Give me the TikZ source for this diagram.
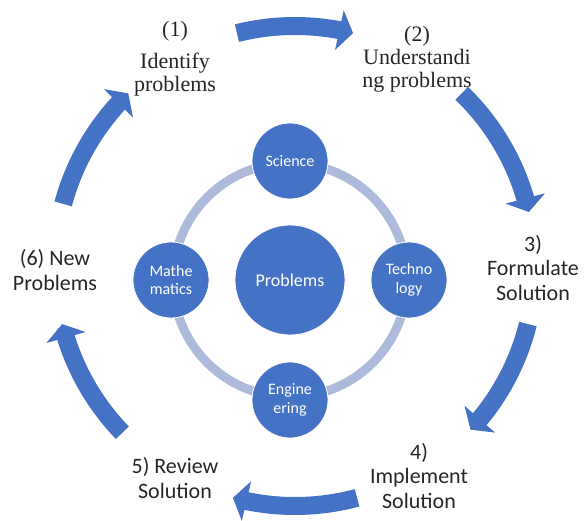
\documentclass[tikz,border=0pt]{standalone}
\usepackage{fontspec}
\setmainfont{Liberation Serif}
\newfontfamily\calibri{Carlito}
\usepackage{xcolor}
\usetikzlibrary{arrows.meta, bending}
\definecolor{officeblue}{HTML}{4472C4}
\definecolor{ringblue}{HTML}{AEBADC}
\definecolor{labelgray}{HTML}{262626}

\begin{document}
\begin{tikzpicture}[x=1pt, y=1pt,
	cycarrow/.style={officeblue, line width=18pt, -{Triangle[width=40pt, length=14pt]}},
	hub/.style={circle, fill=officeblue, draw=white, line width=0.8pt, minimum size=110pt, inner sep=0pt, text=white, align=center, font=\calibri\fontsize{18}{20}\selectfont},
	topic/.style={hub, minimum size=76pt, font=\calibri\fontsize{16}{18.5}\selectfont},
	seriflabel/.style={align=center, text=labelgray, font=\fontsize{22}{23}\selectfont},
	sanslabel/.style={align=center, text=labelgray, font=\calibri\fontsize{22}{24.5}\selectfont}]
			\useasboundingbox (0,0) rectangle (588,520);
			\coordinate (cycle) at (295,254);
			\node [hub] (problems) at (290,240) {Problems};
			\draw [ringblue, line width=9pt] (problems.center) circle [radius=117];
			\node [topic] (science) at (290,359) {Science};
			\node [topic] (maths) at (171,240) {Mathe\\matics};
			\node [topic] (techno) at (409,240) {Techno\\logy};
			\node [topic] (engine) at (290,120) {Engine\\ering};
			\node [seriflabel] (identify) at (175,461) {(1)\\[9pt]Identify\\problems};
			\node [seriflabel] (understand) at (417,461) {(2)\\Understandi\\ng problems};
			\node [sanslabel] (formulate) at (533,252) {3)\\Formulate\\Solution};
			\node [sanslabel] (implement) at (419,44) {4)\\Implement\\Solution};
			\node [sanslabel] (review) at (175,42) {5) Review\\Solution};
			\node [sanslabel] (newprob) at (55,250) {(6) New\\Problems};
			\draw [cycarrow] ([shift={(104:240)}]cycle) arc [start angle=104, end angle=76, radius=240];
			\draw [cycarrow] ([shift={(46:240)}]cycle) arc [start angle=46, end angle=13, radius=240];
			\draw [cycarrow] ([shift={(-14:240)}]cycle) arc [start angle=-14, end angle=-43, radius=240];
			\draw [cycarrow] ([shift={(-75:240)}]cycle) arc [start angle=-75, end angle=-105, radius=240];
			\draw [cycarrow] ([shift={(224:240)}]cycle) arc [start angle=224, end angle=194, radius=240];
			\draw [cycarrow] ([shift={(165:240)}]cycle) arc [start angle=165, end angle=134, radius=240];
		\end{tikzpicture}
\end{document}
